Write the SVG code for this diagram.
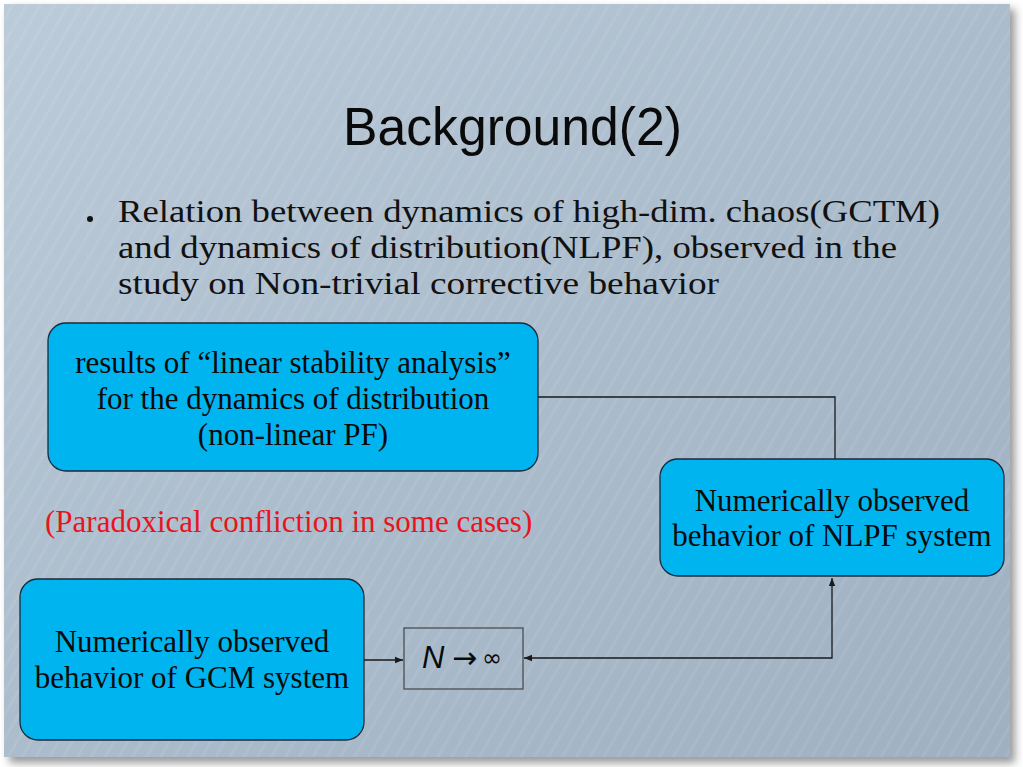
<svg xmlns="http://www.w3.org/2000/svg" width="1023" height="767" viewBox="0 0 1023 767">
<defs>
<linearGradient id="bg" x1="0" y1="0" x2="1" y2="1">
<stop offset="0" stop-color="#bccbd9"/>
<stop offset="0.5" stop-color="#abbccc"/>
<stop offset="1" stop-color="#9fb0c2"/>
</linearGradient>
<pattern id="streak" width="12" height="12" patternUnits="userSpaceOnUse" patternTransform="rotate(-60)">
<rect width="12" height="12" fill="none"/>
<rect width="12" height="3" fill="#ffffff" opacity="0.07"/>
</pattern>
<filter id="sh" x="-5%" y="-5%" width="115%" height="115%">
<feGaussianBlur stdDeviation="4"/>
</filter>
<marker id="ah" viewBox="0 0 10 10" refX="10" refY="5" markerWidth="8" markerHeight="8" orient="auto-start-reverse" markerUnits="userSpaceOnUse">
<path d="M0,1 L10,5 L0,9 z" fill="#1a1a1a"/>
</marker>
<style>
.box{fill:#00b4f0;stroke:#1b2a3a;stroke-width:1.3}
.bt{font-family:"Liberation Serif","Times New Roman",serif;font-size:31px;fill:#0a0a0a;text-anchor:middle}
.body{font-family:"Liberation Serif",serif;font-size:31px;fill:#111}
.conn{fill:none;stroke:#1a1a1a;stroke-width:1.3}
</style>
</defs>
<rect width="1023" height="767" fill="#ffffff"/>
<rect x="9" y="9" width="1006" height="754" fill="#555" opacity="0.6" filter="url(#sh)"/>
<rect x="4" y="4" width="1006" height="753" fill="url(#bg)"/>
<rect x="4" y="4" width="1006" height="753" fill="url(#streak)"/>

<text x="343" y="145" textLength="339" lengthAdjust="spacingAndGlyphs" font-family="'Liberation Sans',sans-serif" font-size="54" fill="#0a0a0a">Background(2)</text>

<g id="bullet">
<circle cx="90" cy="219" r="3" fill="#111"/>
<text class="body" x="118" y="222" textLength="822" lengthAdjust="spacingAndGlyphs">Relation between dynamics of high-dim. chaos(GCTM)</text>
<text class="body" x="118" y="258" textLength="779" lengthAdjust="spacingAndGlyphs">and dynamics of distribution(NLPF), observed in the</text>
<text class="body" x="118" y="294" textLength="601" lengthAdjust="spacingAndGlyphs">study on Non-trivial corrective behavior</text>
</g>

<g id="connectors">
<path class="conn" d="M538,397 H835 V459"/>
<path class="conn" d="M364,660 H403" marker-end="url(#ah)"/>
<path class="conn" d="M524,658 H832 V578" marker-start="url(#ah)" marker-end="url(#ah)"/>
</g>

<g id="linear-stability">
<rect class="box" x="48" y="323" width="490" height="148" rx="18"/>
<text class="bt" x="293" y="373">results of “linear stability analysis”</text>
<text class="bt" x="293" y="409">for the dynamics of distribution</text>
<text class="bt" x="293" y="445">(non-linear PF)</text>
</g>

<g id="nlpf">
<rect class="box" x="660" y="459" width="344" height="117" rx="18"/>
<text class="bt" x="832" y="511">Numerically observed</text>
<text class="bt" x="832" y="546">behavior of NLPF system</text>
</g>

<g id="gcm">
<rect class="box" x="20" y="579" width="344" height="161" rx="18"/>
<text class="bt" x="192" y="652">Numerically observed</text>
<text class="bt" x="192" y="688">behavior of GCM system</text>
</g>

<g id="limit">
<rect x="404" y="628" width="119" height="61" fill="none" stroke="#444" stroke-width="1.2"/>
<text x="422" y="668" font-family="'Liberation Sans',sans-serif" font-style="italic" font-size="31" fill="#0a0a0a">N</text>
<text x="452" y="668" font-family="'DejaVu Sans',sans-serif" font-size="30" fill="#0a0a0a">→</text>
<text x="482" y="666" font-family="'DejaVu Sans',sans-serif" font-size="24" fill="#0a0a0a">∞</text>
</g>

<text id="paradox" x="45" y="532" font-family="'Liberation Serif',serif" font-size="31" fill="#e8141c">(Paradoxical confliction in some cases)</text>
</svg>
